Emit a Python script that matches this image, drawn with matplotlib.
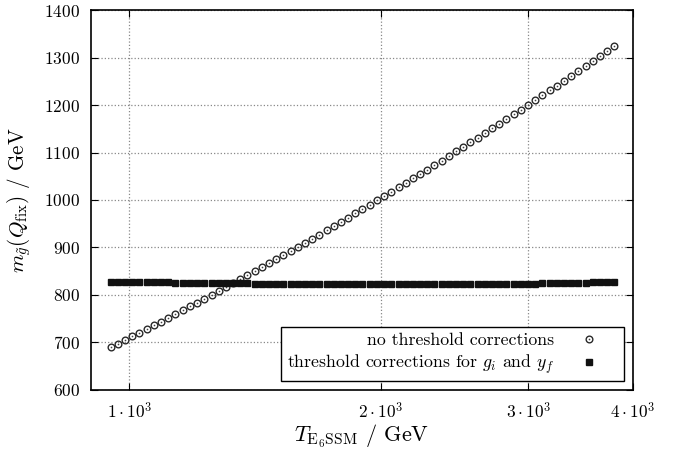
import numpy as np
import matplotlib
matplotlib.use("Agg")
import matplotlib.pyplot as plt
from matplotlib.legend_handler import HandlerTuple

plt.rcParams['mathtext.fontset'] = 'cm'
plt.rcParams['font.family'] = 'serif'
plt.rcParams['font.serif'] = ['cmr10', 'DejaVu Serif']
plt.rcParams['axes.formatter.use_mathtext'] = True

# T_E6SSM values (GeV)
t_e6ssm = [950, 969, 988, 1008, 1028, 1049, 1070, 1091, 1113, 1135,
           1158, 1181, 1205, 1229, 1254, 1279, 1304, 1330, 1357, 1384,
           1412, 1440, 1469, 1498, 1528, 1559, 1590, 1622, 1654, 1687,
           1721, 1755, 1790, 1826, 1863, 1900, 1938, 1977, 2016, 2057,
           2098, 2140, 2183, 2226, 2271, 2316, 2362, 2410, 2458, 2507,
           2557, 2608, 2661, 2714, 2768, 2823, 2880, 2937, 2996, 3056,
           3117, 3180, 3243, 3308, 3374, 3442, 3511, 3581, 3652, 3725, 3800]

# gluino mass without threshold corrections
m_no_thr = [690.0, 697.6, 705.2, 712.9, 720.6, 728.4, 736.2, 744.0, 751.9, 759.8,
            767.8, 775.8, 783.9, 792.0, 800.1, 808.3, 816.5, 824.8, 833.1, 841.4,
            849.8, 858.3, 866.8, 875.3, 883.9, 892.5, 901.1, 909.8, 918.5, 927.3,
            936.1, 945.0, 953.9, 962.9, 971.9, 980.9, 990.0, 999.1, 1008.2, 1017.4,
            1026.7, 1036.0, 1045.3, 1054.7, 1064.1, 1073.6, 1083.1, 1092.6, 1102.2, 1111.8,
            1121.5, 1131.2, 1140.9, 1150.7, 1160.6, 1170.5, 1180.4, 1190.4, 1200.4, 1210.4,
            1220.5, 1230.7, 1240.8, 1251.1, 1261.3, 1271.6, 1282.0, 1292.4, 1302.8, 1313.3, 1323.8]

# gluino mass with threshold corrections for g_i and y_f
m_thr = [828.0, 827.8, 827.6, 827.4, 827.2, 827.0, 826.8, 826.6, 826.4, 826.2,
         826.0, 825.8, 825.6, 825.4, 825.2, 825.0, 824.8, 824.6, 824.4, 824.2,
         824.0, 823.9, 823.8, 823.7, 823.6, 823.5, 823.4, 823.3, 823.2, 823.1,
         823.0, 822.9, 822.8, 822.8, 822.7, 822.7, 822.6, 822.6, 822.5, 822.5,
         822.5, 822.5, 822.5, 822.5, 822.5, 822.5, 822.5, 822.5, 822.5, 822.5,
         822.6, 822.7, 822.8, 822.9, 823.0, 823.2, 823.4, 823.6, 823.8, 824.0,
         824.2, 824.5, 824.8, 825.1, 825.4, 825.7, 826.0, 826.3, 826.6, 826.9, 827.2]

xticks = [1000, 2000, 3000, 4000]
xticklabels = [r'$1\cdot10^3$', r'$2\cdot10^3$', r'$3\cdot10^3$', r'$4\cdot10^3$']
yticks = np.arange(600, 1401, 100)

fig = plt.figure(figsize=(6.83, 4.51), dpi=100)
ax = fig.add_axes([0.1332, 0.1353, 0.7936, 0.8425])

# open circles with a small dot in the middle
c_ring, = ax.plot(t_e6ssm, m_no_thr, linestyle='none', marker='o', markersize=4.8,
                  mfc='none', mec='#2a2a2a', mew=1.0)
c_dot, = ax.plot(t_e6ssm, m_no_thr, linestyle='none', marker='o', markersize=1.2,
                 color='#444444', mew=0)
sq, = ax.plot(t_e6ssm, m_thr, linestyle='none', marker='s', markersize=3.8,
              color='#111111')

ax.set_xscale('log')
ax.set_xlim(900, 4000)
ax.set_ylim(600, 1400)
ax.set_xticks(xticks)
ax.set_xticklabels(xticklabels)
ax.xaxis.set_minor_locator(matplotlib.ticker.NullLocator())
ax.set_yticks(yticks)
ax.tick_params(which='both', direction='in', top=True, right=True, labelsize=12.5,
               length=5, width=0.8, pad=8)
ax.grid(True, linestyle=':', color='#888888', linewidth=0.9)
for s in ax.spines.values():
    s.set_linewidth(1.2)

ax.set_xlabel(r'$T_{\mathrm{E_6SSM}}$ / GeV', fontsize=16, labelpad=1)
ax.set_ylabel(r'$m_{\tilde{g}}(Q_{\mathrm{fix}})$ / GeV', fontsize=15.2, labelpad=8)

leg = ax.legend([(c_ring, c_dot), sq],
                ['no threshold corrections', r'threshold corrections for $g_i$ and $y_f$'],
                handler_map={tuple: HandlerTuple(ndivide=1)},
                loc='lower right', markerfirst=False, fontsize=12.8, fancybox=False,
                edgecolor='black', framealpha=1, borderaxespad=0.5, handletextpad=0.35,
                handlelength=3.3, borderpad=0.3, labelspacing=0.25)
leg.get_frame().set_linewidth(1.0)

fig.savefig('out.png', dpi=100)
